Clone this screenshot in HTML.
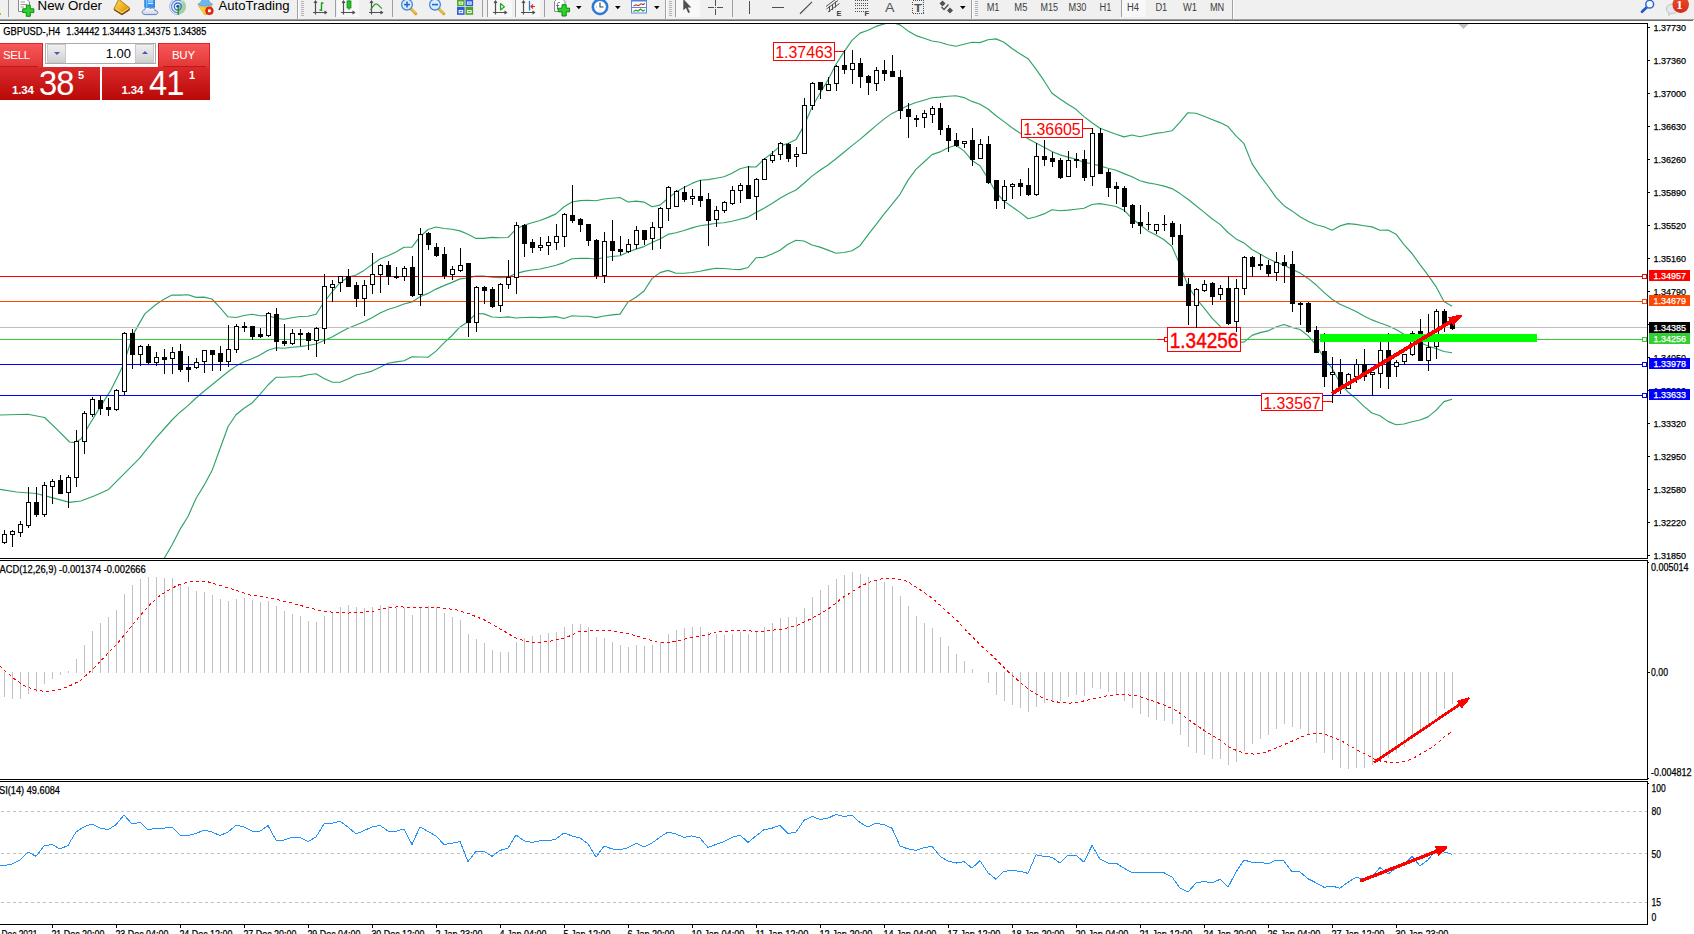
<!DOCTYPE html>
<html lang="en"><head><meta charset="utf-8"><title>GBPUSD H4</title>
<style>
html,body{margin:0;padding:0;background:#fff;}
body{width:1694px;height:934px;overflow:hidden;position:relative;font-family:"Liberation Sans",Arial,sans-serif;}
#trade{position:absolute;left:0;top:43px;width:210px;height:57px;color:#fff;}
#trade .top{position:absolute;top:0;height:25px;background:linear-gradient(#f85858,#e23434);}
#trade .sell{left:0;width:43px;border-top:1px solid #e02828;box-sizing:border-box;border-right:1px solid #d82020}
#trade .buy{left:158px;width:52px;border-top:1px solid #e02828;box-sizing:border-box;border-left:1px solid #d82020;border-right:1px solid #d82020}
#trade .lbl{position:absolute;top:4px;font-size:11.5px;line-height:14px;letter-spacing:-0.3px}
#trade .sell .lbl{left:3px}
#trade .buy .lbl{left:13px}
#trade .sell:after{content:"";position:absolute;left:0;bottom:1px;width:38px;height:1px;background:#c01818}
#trade .buy:after{content:"";position:absolute;left:4px;bottom:1px;width:43px;height:1px;background:#c01818}
#trade .spin{position:absolute;left:45px;top:0;width:111px;height:21px;border:1px solid #aaa;box-sizing:border-box;background:#fff;}
#trade .btn{position:absolute;top:0px;width:19px;height:19px;background:linear-gradient(#f0f0f0,#d0d0d0);border:1px solid #c8c8c8;box-sizing:border-box}
#trade .dn{left:1px}#trade .up{left:89px}
#trade .btn i{position:absolute;left:5.5px;top:7px;width:0;height:0;border-left:3px solid transparent;border-right:3px solid transparent}
#trade .dn i{border-top:3px solid #4858b8}
#trade .up i{border-bottom:3px solid #4858b8;top:6px}
#trade .val{position:absolute;right:24px;top:2px;font-size:13px;line-height:15px;color:#000}
#trade .price{position:absolute;top:24px;height:33px;background:linear-gradient(#dc2a2a,#b80808);}
#trade .ps{left:0;width:100px}
#trade .pb{left:102px;width:108px}
#trade .sm{position:absolute;bottom:4px;font-size:11.5px;letter-spacing:-0.2px;font-weight:bold;line-height:11px}
#trade .big{position:absolute;bottom:0px;font-size:35px;line-height:35px;letter-spacing:-1px;transform:scaleX(0.935);transform-origin:left bottom}
#trade .sup{position:absolute;top:2px;font-size:11px;font-weight:bold;line-height:12px}
#trade .ps .sm{left:12px}#trade .ps .big{left:38.5px}#trade .ps .sup{left:78px}
#trade .pb .sm{left:19.5px}#trade .pb .big{left:46.5px}#trade .pb .sup{left:87px}
</style></head>
<body>
<svg id="chart" width="1694" height="934" viewBox="0 0 1694 934" font-family="Liberation Sans, Arial, sans-serif" style="position:absolute;left:0;top:0">
<defs>
<clipPath id="cm"><rect x="0" y="24" width="1647" height="534"/></clipPath>
<clipPath id="c2"><rect x="0" y="561" width="1647" height="218"/></clipPath>
<clipPath id="c3"><rect x="0" y="782" width="1647" height="142"/></clipPath>
</defs>
<g shape-rendering="crispEdges" stroke="#000" stroke-width="1" fill="none">
<path d="M0 23.5H1648"/>
<path d="M1647.5 23V559"/>
<path d="M0 558.5H1648"/>
<path d="M0 560.5H1648"/>
<path d="M1647.5 560V780"/>
<path d="M0 779.5H1648"/>
<path d="M0 781.5H1648"/>
<path d="M1647.5 781V925"/>
<path d="M0 924.5H1648"/>
</g>
<g clip-path="url(#cm)">
<g fill="none" stroke="#2fa366" stroke-width="1.15" stroke-linejoin="round">
<polyline points="0,415 27.8,414.2 44.6,417.5 55.7,428.1 69.6,442 75,442.6 80.8,439.2 89,425.3 97.5,411.4 111.4,389.1 122.5,366.8 133.7,333.4 144.8,313.9 156,304.5 164,299.3 172,295.1 180,295.1 188,294.7 196,297.4 204,297.1 212,299 220,307.7 228,316.8 236,317.5 244,315.5 252,314.2 260,315.8 268,315.5 276,318.2 284,319.3 292,317.7 300,316.5 308,316.2 316,314.3 324,302.3 332,292 340,282.6 348,277.4 356,275 364,270.4 372,264.6 380,259 388,255.7 396,252 404,247.3 412,247.1 420,236.7 428,229.5 436,227 444,228.5 452,229.3 460,230.9 468,234.3 476,238.4 484,238.4 492,237.4 500,237.7 508,237.5 516,229.1 524,225.3 532,222.7 540,220.5 548,217.4 556,213.9 564,206.7 572,202 580,200.6 588,200.2 596,200.8 604,199 612,198.2 620,197.5 628,202 636,201.1 644,202.1 652,206.7 660,205.1 668,198.3 676,192.1 684,187.6 692,183.4 700,180.2 708,179.6 716,178.2 724,176.8 732,173.2 740,168.8 748,166.8 756,167 764,159.3 772,153.1 780,146.1 788,143.4 796,139.6 804,125.6 812,107.3 820,93.2 828,79.9 836,64.3 844,51.9 852,40.4 860,33.1 868,30.2 876,26.4 884,23.9 892,22.4 900,24.9 908,30.9 916,35.6 924,38.3 932,41 940,42.3 948,44.8 956,46.3 964,44.3 972,42.3 980,42.6 988,39.7 996,38.9 1004,42.2 1012,48.5 1020,53.8 1028,58.7 1036,69.2 1044,80.7 1052,93.2 1060,99 1068,104.2 1076,109.3 1084,116.6 1092,122.8 1100,128.2 1108,131.3 1116,134.2 1124,136.9 1132,135 1140,136.8 1148,135 1156,133.4 1164,132.3 1172,130.8 1180,122.1 1188,112.7 1196,113.3 1204,116.3 1212,119.5 1220,122.6 1228,126.6 1236,135.9 1244,143.7 1252,163.6 1260,175.6 1268,186 1276,197.4 1284,205.7 1292,210.9 1300,216.7 1308,221.3 1316,224.8 1324,226.8 1332,230.3 1340,225.9 1348,223.6 1356,224.4 1364,225.7 1372,226.9 1380,230.2 1388,230 1396,234.2 1404,244.6 1412,253.5 1420,264.7 1428,275.2 1436,286.6 1444,301.4 1452,306.2"/>
<polyline points="0,489.4 16.7,492 36.2,493.5 55.7,498.6 69.6,502.4 80.8,501 94.7,495.8 108.6,489.4 122.5,475.4 139.2,458.7 156,437.8 164,429 172,420 180,412.2 188,405.6 196,398 204,391.2 212,384.8 220,378.2 228,371.8 236,366.1 244,361.8 252,358.7 260,355 268,350.2 276,347.7 284,348.2 292,347.2 300,346.6 308,345.5 316,344 324,340.4 332,337 340,332.4 348,328.2 356,325 364,321.8 372,317.8 380,313.1 388,309.5 396,307 404,304 412,301.9 420,296.8 428,293.4 436,289.1 444,285.6 452,282.4 460,278.9 468,278 476,276 484,276.1 492,277.2 500,277.6 508,277.2 516,273.6 524,271.4 532,270 540,269 548,267.3 556,265.3 564,262.6 572,258.8 580,258.4 588,258.2 596,259.2 604,257.5 612,256.5 620,255.8 628,252 636,249.1 644,246.6 652,242.6 660,238.9 668,234.4 676,232.7 684,230.5 692,227.9 700,225.7 708,224.6 716,223.3 724,222.7 732,221.2 740,219.2 748,217.1 756,212.4 764,208.3 772,203.5 780,198.2 788,193.8 796,190 804,183.3 812,176.1 820,170.2 828,165 836,158.7 844,152.2 852,145.6 860,139.4 868,132.5 876,125.6 884,119.1 892,113.4 900,109.6 908,105.5 916,102.5 924,100.2 932,97.8 940,97.1 948,96.2 956,95.8 964,97.6 972,101.4 980,104.2 988,109 996,115.7 1004,121.6 1012,127.7 1020,133.1 1028,138.7 1036,143 1044,147.3 1052,151.5 1060,154.9 1068,157.1 1076,159.2 1084,162.4 1092,163.7 1100,165.9 1108,168.2 1116,170.3 1124,173.6 1132,176.8 1140,180.8 1148,182.9 1156,184.2 1164,186.1 1172,188.6 1180,193.6 1188,199.2 1196,205.8 1204,212.1 1212,218.8 1220,224.4 1228,232.5 1236,238.9 1244,242.9 1252,249.5 1260,254.1 1268,258.4 1276,262.2 1284,265.1 1292,269.2 1300,273.1 1308,278.4 1316,284.8 1324,292.4 1332,299.2 1340,304.3 1348,307.8 1356,311.5 1364,316.1 1372,319.9 1380,323 1388,325.7 1396,329.4 1404,334.3 1412,337.6 1420,342.4 1428,346.1 1436,348.5 1444,351.5 1452,352.7"/>
<polyline points="156,572 156,571.1 164,558.7 172,545 180,529.4 188,516.5 196,498.5 204,485.4 212,470.6 220,448.8 228,426.8 236,414.7 244,408.2 252,403.1 260,394.3 268,385 276,377.3 284,377.2 292,376.7 300,376.6 308,374.8 316,373.8 324,378.5 332,382.1 340,382.2 348,379 356,375 364,373.2 372,371.1 380,367.2 388,363.2 396,361.9 404,360.7 412,356.8 420,357 428,357.3 436,351.1 444,342.8 452,335.5 460,326.9 468,321.7 476,313.5 484,313.9 492,317 500,317.5 508,316.9 516,318 524,317.5 532,317.3 540,317.6 548,317.1 556,316.6 564,318.5 572,315.7 580,316.2 588,316.2 596,317.6 604,316 612,314.9 620,314.1 628,302 636,297.2 644,291 652,278.6 660,272.6 668,270.4 676,273.2 684,273.3 692,272.5 700,271.2 708,269.6 716,268.3 724,268.5 732,269.2 740,269.6 748,267.5 756,257.8 764,257.3 772,254 780,250.3 788,244.2 796,240.3 804,241 812,245 820,247.1 828,250.1 836,253.2 844,252.5 852,250.8 860,245.7 868,234.9 876,224.7 884,214.2 892,204.3 900,194.3 908,180.1 916,169.3 924,162 932,154.6 940,151.9 948,147.7 956,145.3 964,150.9 972,160.4 980,165.7 988,178.4 996,192.5 1004,201.1 1012,206.8 1020,212.4 1028,218.7 1036,216.8 1044,213.9 1052,209.8 1060,210.8 1068,210.1 1076,209.2 1084,208.2 1092,204.5 1100,203.6 1108,205 1116,206.5 1124,210.2 1132,218.5 1140,224.8 1148,230.9 1156,234.9 1164,239.8 1172,246.5 1180,265.1 1188,285.7 1196,298.3 1204,307.9 1212,318.2 1220,326.2 1228,338.4 1236,341.9 1244,342.1 1252,335.4 1260,332.6 1268,330.9 1276,327 1284,324.5 1292,327.4 1300,329.5 1308,335.6 1316,344.8 1324,358 1332,368.2 1340,382.8 1348,392 1356,398.6 1364,406.4 1372,413 1380,415.8 1388,421.4 1396,424.7 1404,424 1412,421.7 1420,420 1428,416.9 1436,410.4 1444,401.6 1452,399.2"/>
</g>
<g shape-rendering="crispEdges" stroke-width="1" fill="none">
<path d="M0 327.5H1647" stroke="#c0c0c0"/>
<path d="M0 276.5H1647" stroke="#ff0000"/>
<path d="M0 301.5H1647" stroke="#ff4500"/>
<path d="M0 339.5H1647" stroke="#32cd32"/>
<path d="M0 364.5H1647" stroke="#0000ff"/>
<path d="M0 395.5H1647" stroke="#0000ff"/>
</g>
<g shape-rendering="crispEdges" stroke-width="1" fill="#fff">
<rect x="1642.5" y="274.5" width="4" height="4" stroke="#ff0000"/>
<rect x="1642.5" y="299.5" width="4" height="4" stroke="#ff4500"/>
<rect x="1642.5" y="337.5" width="4" height="4" stroke="#32cd32"/>
<rect x="1642.5" y="362.5" width="4" height="4" stroke="#0000ff"/>
<rect x="1642.5" y="393.5" width="4" height="4" stroke="#0000ff"/>
</g>
<g shape-rendering="crispEdges" stroke="#f00" stroke-width="1"><path d="M1157 339.5H1165" fill="none"/><rect x="1164.5" y="337.5" width="3" height="4" fill="#fff"/></g>
<g shape-rendering="crispEdges" stroke="#f00" fill="none"><path d="M835 51.5H845"/><path d="M1083 128.5H1093"/><path d="M1323 401.5H1333"/></g>
<rect x="773.5" y="42.5" width="61" height="18" fill="#fff" stroke="#f00" stroke-width="1" shape-rendering="crispEdges"/>
<text x="775.2" y="58.2" font-size="16.5" fill="#f00" text-anchor="start" textLength="57.5" lengthAdjust="spacingAndGlyphs" >1.37463</text>
<rect x="1021.5" y="119.5" width="61" height="18" fill="#fff" stroke="#f00" stroke-width="1" shape-rendering="crispEdges"/>
<text x="1023.2" y="135.2" font-size="16.5" fill="#f00" text-anchor="start" textLength="57.5" lengthAdjust="spacingAndGlyphs" >1.36605</text>
<rect x="1261.5" y="393.5" width="61" height="17" fill="#fff" stroke="#f00" stroke-width="1" shape-rendering="crispEdges"/>
<text x="1263.2" y="408.7" font-size="16.5" fill="#f00" text-anchor="start" textLength="57.5" lengthAdjust="spacingAndGlyphs" >1.33567</text>
<rect x="1167.5" y="327.5" width="73" height="24" fill="#fff" stroke="#f00" stroke-width="1" shape-rendering="crispEdges"/>
<text x="1169.8" y="348" font-size="21.5" fill="#f00" text-anchor="start" textLength="68.5" lengthAdjust="spacingAndGlyphs" stroke="#f00" stroke-width="0.45">1.34256</text>
<g shape-rendering="crispEdges" stroke="#000" stroke-width="1">
<path d="M4.5 530V544M12.5 530V547M20.5 521V537M28.5 487V528M36.5 487V517M44.5 482V517M52.5 479V504M60.5 475V494M68.5 475V508M76.5 430V487M84.5 411V454M92.5 397V417M100.5 396V415M108.5 398V416M116.5 389V411M124.5 332V395M132.5 329V369M140.5 345V366M148.5 344V364M156.5 352V366M164.5 349V374M172.5 347V374M180.5 344V372M188.5 356V382M196.5 358V369M204.5 350V373M212.5 350V371M220.5 346V371M228.5 325V367M236.5 324V353M244.5 322V332M252.5 326V340M260.5 328V338M268.5 312V337M276.5 308V351M284.5 324V346M292.5 329V345M300.5 329V346M308.5 332V350M316.5 327V357M324.5 274V344M332.5 280V302M340.5 276V292M348.5 269V287M356.5 282V307M364.5 280V316M372.5 253V294M380.5 264V293M388.5 261V285M396.5 267V279M404.5 266V281M412.5 256V297M420.5 228V306M428.5 232V250M436.5 243V257M444.5 247V279M452.5 266V280M460.5 248V272M468.5 263V337M476.5 286V332M484.5 286V304M492.5 287V308M500.5 283V312M508.5 260V289M516.5 222V294M524.5 224V257M532.5 239V253M540.5 237V251M548.5 236V255M556.5 224V250M564.5 213V247M572.5 185V223M580.5 218V232M588.5 224V246M596.5 239V279M604.5 232V283M612.5 220V261M620.5 236V255M628.5 239V253M636.5 226V249M644.5 230V245M652.5 222V250M660.5 207V249M668.5 186V221M676.5 190V207M684.5 186V202M692.5 189V205M700.5 180V207M708.5 193V246M716.5 206V227M724.5 201V213M732.5 186V205M740.5 183V203M748.5 166V199M756.5 178V220M764.5 158V180M772.5 151V163M780.5 142V160M788.5 143V162M796.5 147V167M804.5 98V154M812.5 82V110M820.5 82V99M828.5 77V91M836.5 65V91M844.5 50V74M852.5 50V84M860.5 58V88M868.5 75V95M876.5 67V91M884.5 60V81M892.5 55V77M900.5 70V119M908.5 103V138M916.5 115V127M924.5 110V128M932.5 106V123M940.5 103V135M948.5 125V152M956.5 133V147M964.5 141V148M972.5 128V166M980.5 139V159M988.5 136V184M996.5 180V209M1004.5 180V209M1012.5 183V199M1020.5 179V196M1028.5 168V196M1036.5 143V196M1044.5 140V166M1052.5 152V167M1060.5 158V179M1068.5 151V177M1076.5 153V168M1084.5 150V181M1092.5 128V186M1100.5 128V174M1108.5 169V197M1116.5 182V204M1124.5 186V212M1132.5 204V228M1140.5 205V234M1148.5 212V230M1146 224.5H1151M1156.5 224V234M1164.5 215V231M1162 224.5H1167M1172.5 221V245M1180.5 224V286M1188.5 278V325M1196.5 288V328M1204.5 280V292M1212.5 282V305M1220.5 285V300M1228.5 276V325M1236.5 279V332M1244.5 256V295M1252.5 256V277M1260.5 254V270M1268.5 260V277M1276.5 252V281M1284.5 255V283M1292.5 251V312M1300.5 302V325M1308.5 302V333M1316.5 326V353M1324.5 333V387M1332.5 357V403M1340.5 359V394M1348.5 373V389M1356.5 359V383M1364.5 349V381M1372.5 372V396M1380.5 342V388M1388.5 333V389M1396.5 360V377M1404.5 354V365M1412.5 331V356M1420.5 319V361M1428.5 314V371M1436.5 309V359M1444.5 309V332M1452.5 318V330" fill="none"/>
<path d="M2.5 534.5H6.5V542.5H2.5ZM10.5 531.5H14.5V534.5H10.5ZM18.5 524.5H22.5V532.5H18.5ZM26.5 502.5H30.5V525.5H26.5ZM42.5 485.5H46.5V514.5H42.5ZM50.5 481.5H54.5V486.5H50.5ZM66.5 477.5H70.5V492.5H66.5ZM74.5 441.5H78.5V477.5H74.5ZM82.5 413.5H86.5V441.5H82.5ZM90.5 399.5H94.5V414.5H90.5ZM114.5 390.5H118.5V409.5H114.5ZM122.5 333.5H126.5V391.5H122.5ZM138.5 346.5H142.5V354.5H138.5ZM154.5 357.5H158.5V362.5H154.5ZM170.5 352.5H174.5V358.5H170.5ZM194.5 362.5H198.5V367.5H194.5ZM202.5 350.5H206.5V361.5H202.5ZM226.5 349.5H230.5V361.5H226.5ZM234.5 326.5H238.5V349.5H234.5ZM266.5 313.5H270.5V335.5H266.5ZM290.5 333.5H294.5V343.5H290.5ZM314.5 328.5H318.5V340.5H314.5ZM322.5 286.5H326.5V328.5H322.5ZM330.5 284.5H334.5V287.5H330.5ZM338.5 276.5H342.5V282.5H338.5ZM362.5 285.5H366.5V298.5H362.5ZM370.5 274.5H374.5V284.5H370.5ZM378.5 265.5H382.5V274.5H378.5ZM402.5 268.5H406.5V276.5H402.5ZM418.5 234.5H422.5V294.5H418.5ZM450.5 269.5H454.5V274.5H450.5ZM458.5 265.5H462.5V270.5H458.5ZM474.5 287.5H478.5V322.5H474.5ZM498.5 284.5H502.5V305.5H498.5ZM506.5 277.5H510.5V284.5H506.5ZM514.5 225.5H518.5V277.5H514.5ZM538.5 245.5H542.5V247.5H538.5ZM546.5 242.5H550.5V245.5H546.5ZM554.5 236.5H558.5V242.5H554.5ZM562.5 214.5H566.5V236.5H562.5ZM602.5 241.5H606.5V275.5H602.5ZM626.5 244.5H630.5V251.5H626.5ZM634.5 230.5H638.5V244.5H634.5ZM650.5 227.5H654.5V238.5H650.5ZM658.5 208.5H662.5V227.5H658.5ZM666.5 187.5H670.5V208.5H666.5ZM674.5 191.5H678.5V206.5H674.5ZM690.5 196.5H694.5V198.5H690.5ZM714.5 210.5H718.5V219.5H714.5ZM722.5 202.5H726.5V210.5H722.5ZM730.5 190.5H734.5V203.5H730.5ZM738.5 185.5H742.5V190.5H738.5ZM754.5 179.5H758.5V196.5H754.5ZM762.5 159.5H766.5V179.5H762.5ZM770.5 155.5H774.5V160.5H770.5ZM778.5 143.5H782.5V154.5H778.5ZM794.5 154.5H798.5V156.5H794.5ZM802.5 105.5H806.5V153.5H802.5ZM810.5 83.5H814.5V105.5H810.5ZM826.5 84.5H830.5V90.5H826.5ZM834.5 66.5H838.5V83.5H834.5ZM850.5 63.5H854.5V69.5H850.5ZM874.5 70.5H878.5V83.5H874.5ZM922.5 113.5H926.5V117.5H922.5ZM930.5 108.5H934.5V114.5H930.5ZM962.5 141.5H966.5V143.5H962.5ZM978.5 144.5H982.5V158.5H978.5ZM1002.5 186.5H1006.5V200.5H1002.5ZM1010.5 184.5H1014.5V186.5H1010.5ZM1034.5 156.5H1038.5V194.5H1034.5ZM1066.5 160.5H1070.5V176.5H1066.5ZM1090.5 133.5H1094.5V176.5H1090.5ZM1154.5 224.5H1158.5V230.5H1154.5ZM1194.5 289.5H1198.5V305.5H1194.5ZM1202.5 284.5H1206.5V290.5H1202.5ZM1218.5 288.5H1222.5V294.5H1218.5ZM1234.5 288.5H1238.5V321.5H1234.5ZM1242.5 257.5H1246.5V288.5H1242.5ZM1274.5 262.5H1278.5V272.5H1274.5ZM1330.5 372.5H1334.5V374.5H1330.5ZM1346.5 374.5H1350.5V388.5H1346.5ZM1354.5 364.5H1358.5V376.5H1354.5ZM1370.5 372.5H1374.5V374.5H1370.5ZM1378.5 350.5H1382.5V373.5H1378.5ZM1394.5 362.5H1398.5V366.5H1394.5ZM1402.5 354.5H1406.5V361.5H1402.5ZM1410.5 333.5H1414.5V354.5H1410.5ZM1426.5 347.5H1430.5V360.5H1426.5ZM1434.5 311.5H1438.5V346.5H1434.5Z" fill="#fff"/>
<path d="M34.5 502.5H38.5V514.5H34.5ZM58.5 480.5H62.5V493.5H58.5ZM98.5 400.5H102.5V408.5H98.5ZM106.5 407.5H110.5V409.5H106.5ZM130.5 333.5H134.5V354.5H130.5ZM146.5 346.5H150.5V362.5H146.5ZM162.5 357.5H166.5V359.5H162.5ZM178.5 351.5H182.5V369.5H178.5ZM186.5 367.5H190.5V369.5H186.5ZM210.5 350.5H214.5V354.5H210.5ZM218.5 353.5H222.5V361.5H218.5ZM242.5 326.5H246.5V327.5H242.5ZM250.5 326.5H254.5V336.5H250.5ZM258.5 334.5H262.5V336.5H258.5ZM274.5 314.5H278.5V341.5H274.5ZM282.5 341.5H286.5V343.5H282.5ZM298.5 333.5H302.5V334.5H298.5ZM306.5 333.5H310.5V340.5H306.5ZM346.5 276.5H350.5V286.5H346.5ZM354.5 285.5H358.5V298.5H354.5ZM386.5 265.5H390.5V276.5H386.5ZM394.5 276.5H398.5V277.5H394.5ZM410.5 267.5H414.5V295.5H410.5ZM426.5 233.5H430.5V244.5H426.5ZM434.5 247.5H438.5V255.5H434.5ZM442.5 254.5H446.5V275.5H442.5ZM466.5 263.5H470.5V322.5H466.5ZM482.5 287.5H486.5V290.5H482.5ZM490.5 289.5H494.5V306.5H490.5ZM522.5 225.5H526.5V243.5H522.5ZM530.5 242.5H534.5V247.5H530.5ZM570.5 215.5H574.5V220.5H570.5ZM578.5 219.5H582.5V224.5H578.5ZM586.5 224.5H590.5V240.5H586.5ZM594.5 240.5H598.5V275.5H594.5ZM610.5 241.5H614.5V250.5H610.5ZM618.5 249.5H622.5V251.5H618.5ZM642.5 230.5H646.5V239.5H642.5ZM682.5 192.5H686.5V199.5H682.5ZM698.5 196.5H702.5V200.5H698.5ZM706.5 199.5H710.5V220.5H706.5ZM746.5 185.5H750.5V198.5H746.5ZM786.5 144.5H790.5V158.5H786.5ZM818.5 82.5H822.5V89.5H818.5ZM842.5 65.5H846.5V69.5H842.5ZM858.5 63.5H862.5V76.5H858.5ZM866.5 76.5H870.5V82.5H866.5ZM882.5 70.5H886.5V73.5H882.5ZM890.5 71.5H894.5V76.5H890.5ZM898.5 77.5H902.5V110.5H898.5ZM906.5 109.5H910.5V116.5H906.5ZM914.5 118.5H918.5V119.5H914.5ZM938.5 108.5H942.5V129.5H938.5ZM946.5 128.5H950.5V140.5H946.5ZM954.5 140.5H958.5V145.5H954.5ZM970.5 140.5H974.5V159.5H970.5ZM986.5 144.5H990.5V182.5H986.5ZM994.5 180.5H998.5V200.5H994.5ZM1018.5 183.5H1022.5V186.5H1018.5ZM1026.5 185.5H1030.5V194.5H1026.5ZM1042.5 156.5H1046.5V159.5H1042.5ZM1050.5 158.5H1054.5V161.5H1050.5ZM1058.5 160.5H1062.5V177.5H1058.5ZM1074.5 159.5H1078.5V160.5H1074.5ZM1082.5 159.5H1086.5V177.5H1082.5ZM1098.5 133.5H1102.5V173.5H1098.5ZM1106.5 172.5H1110.5V187.5H1106.5ZM1114.5 186.5H1118.5V188.5H1114.5ZM1122.5 188.5H1126.5V206.5H1122.5ZM1130.5 205.5H1134.5V223.5H1130.5ZM1138.5 222.5H1142.5V225.5H1138.5ZM1170.5 223.5H1174.5V236.5H1170.5ZM1178.5 235.5H1182.5V285.5H1178.5ZM1186.5 284.5H1190.5V305.5H1186.5ZM1210.5 283.5H1214.5V296.5H1210.5ZM1226.5 288.5H1230.5V323.5H1226.5ZM1250.5 257.5H1254.5V266.5H1250.5ZM1258.5 264.5H1262.5V265.5H1258.5ZM1266.5 265.5H1270.5V273.5H1266.5ZM1282.5 262.5H1286.5V265.5H1282.5ZM1290.5 264.5H1294.5V303.5H1290.5ZM1298.5 303.5H1302.5V304.5H1298.5ZM1306.5 303.5H1310.5V331.5H1306.5ZM1314.5 330.5H1318.5V352.5H1314.5ZM1322.5 351.5H1326.5V376.5H1322.5ZM1338.5 372.5H1342.5V387.5H1338.5ZM1362.5 364.5H1366.5V376.5H1362.5ZM1386.5 350.5H1390.5V376.5H1386.5ZM1418.5 331.5H1422.5V360.5H1418.5ZM1442.5 311.5H1446.5V324.5H1442.5ZM1450.5 322.5H1454.5V328.5H1450.5Z" fill="#000"/>
</g>
<rect x="1320" y="334" width="217" height="8" fill="#00ff00" shape-rendering="crispEdges"/>
<g shape-rendering="crispEdges">
<path d="M1332 393.5L1452.5 320.6" stroke="#f00" stroke-width="3.9" fill="none"/>
<path d="M1462 316L1453.4 325.9L1448.2 317.4L1461 314.4Z" fill="#f00"/>
</g>
<path d="M1458.5 24L1468.5 24L1463.5 29Z" fill="#c0c0c0"/>
</g>
<text x="3.2" y="34.5" font-size="10" fill="#000" text-anchor="start" textLength="57" lengthAdjust="spacingAndGlyphs"  stroke="#000" stroke-width="0.25">GBPUSD-,H4</text>
<text x="66.3" y="34.5" font-size="10" fill="#000" text-anchor="start" textLength="140" lengthAdjust="spacingAndGlyphs"  stroke="#000" stroke-width="0.25">1.34442 1.34443 1.34375 1.34385</text>
<g shape-rendering="crispEdges" stroke="#000">
<path d="M1648 27.5H1650"/>
<path d="M1648 60.5H1650"/>
<path d="M1648 93.5H1650"/>
<path d="M1648 126.5H1650"/>
<path d="M1648 159.5H1650"/>
<path d="M1648 192.5H1650"/>
<path d="M1648 225.5H1650"/>
<path d="M1648 258.5H1650"/>
<path d="M1648 291.5H1650"/>
<path d="M1648 324.5H1650"/>
<path d="M1648 357.5H1650"/>
<path d="M1648 390.5H1650"/>
<path d="M1648 423.5H1650"/>
<path d="M1648 456.5H1650"/>
<path d="M1648 489.5H1650"/>
<path d="M1648 522.5H1650"/>
<path d="M1648 555.5H1650"/>
</g>
<text x="1653.5" y="31" font-size="9.7" fill="#000" text-anchor="start" textLength="32.5" lengthAdjust="spacingAndGlyphs"  stroke="#000" stroke-width="0.25">1.37730</text>
<text x="1653.5" y="64" font-size="9.7" fill="#000" text-anchor="start" textLength="32.5" lengthAdjust="spacingAndGlyphs"  stroke="#000" stroke-width="0.25">1.37360</text>
<text x="1653.5" y="97" font-size="9.7" fill="#000" text-anchor="start" textLength="32.5" lengthAdjust="spacingAndGlyphs"  stroke="#000" stroke-width="0.25">1.37000</text>
<text x="1653.5" y="130" font-size="9.7" fill="#000" text-anchor="start" textLength="32.5" lengthAdjust="spacingAndGlyphs"  stroke="#000" stroke-width="0.25">1.36630</text>
<text x="1653.5" y="163" font-size="9.7" fill="#000" text-anchor="start" textLength="32.5" lengthAdjust="spacingAndGlyphs"  stroke="#000" stroke-width="0.25">1.36260</text>
<text x="1653.5" y="196" font-size="9.7" fill="#000" text-anchor="start" textLength="32.5" lengthAdjust="spacingAndGlyphs"  stroke="#000" stroke-width="0.25">1.35890</text>
<text x="1653.5" y="229" font-size="9.7" fill="#000" text-anchor="start" textLength="32.5" lengthAdjust="spacingAndGlyphs"  stroke="#000" stroke-width="0.25">1.35520</text>
<text x="1653.5" y="262" font-size="9.7" fill="#000" text-anchor="start" textLength="32.5" lengthAdjust="spacingAndGlyphs"  stroke="#000" stroke-width="0.25">1.35160</text>
<text x="1653.5" y="295" font-size="9.7" fill="#000" text-anchor="start" textLength="32.5" lengthAdjust="spacingAndGlyphs"  stroke="#000" stroke-width="0.25">1.34790</text>
<text x="1653.5" y="328" font-size="9.7" fill="#000" text-anchor="start" textLength="32.5" lengthAdjust="spacingAndGlyphs"  stroke="#000" stroke-width="0.25">1.34420</text>
<text x="1653.5" y="361" font-size="9.7" fill="#000" text-anchor="start" textLength="32.5" lengthAdjust="spacingAndGlyphs"  stroke="#000" stroke-width="0.25">1.34050</text>
<text x="1653.5" y="394" font-size="9.7" fill="#000" text-anchor="start" textLength="32.5" lengthAdjust="spacingAndGlyphs"  stroke="#000" stroke-width="0.25">1.33690</text>
<text x="1653.5" y="427" font-size="9.7" fill="#000" text-anchor="start" textLength="32.5" lengthAdjust="spacingAndGlyphs"  stroke="#000" stroke-width="0.25">1.33320</text>
<text x="1653.5" y="460" font-size="9.7" fill="#000" text-anchor="start" textLength="32.5" lengthAdjust="spacingAndGlyphs"  stroke="#000" stroke-width="0.25">1.32950</text>
<text x="1653.5" y="493" font-size="9.7" fill="#000" text-anchor="start" textLength="32.5" lengthAdjust="spacingAndGlyphs"  stroke="#000" stroke-width="0.25">1.32580</text>
<text x="1653.5" y="526" font-size="9.7" fill="#000" text-anchor="start" textLength="32.5" lengthAdjust="spacingAndGlyphs"  stroke="#000" stroke-width="0.25">1.32220</text>
<text x="1653.5" y="559" font-size="9.7" fill="#000" text-anchor="start" textLength="32.5" lengthAdjust="spacingAndGlyphs"  stroke="#000" stroke-width="0.25">1.31850</text>
<rect x="1649" y="270" width="41" height="11" fill="#ff0000" shape-rendering="crispEdges"/>
<text x="1653.5" y="278.9" font-size="9.7" fill="#fff" text-anchor="start" textLength="32.5" lengthAdjust="spacingAndGlyphs"  stroke="#fff" stroke-width="0.25">1.34957</text>
<rect x="1649" y="295" width="41" height="11" fill="#ff4500" shape-rendering="crispEdges"/>
<text x="1653.5" y="303.9" font-size="9.7" fill="#fff" text-anchor="start" textLength="32.5" lengthAdjust="spacingAndGlyphs"  stroke="#fff" stroke-width="0.25">1.34679</text>
<rect x="1649" y="322" width="41" height="11" fill="#000000" shape-rendering="crispEdges"/>
<text x="1653.5" y="330.9" font-size="9.7" fill="#fff" text-anchor="start" textLength="32.5" lengthAdjust="spacingAndGlyphs"  stroke="#fff" stroke-width="0.25">1.34385</text>
<rect x="1649" y="333" width="41" height="11" fill="#32cd32" shape-rendering="crispEdges"/>
<text x="1653.5" y="341.9" font-size="9.7" fill="#fff" text-anchor="start" textLength="32.5" lengthAdjust="spacingAndGlyphs"  stroke="#fff" stroke-width="0.25">1.34256</text>
<rect x="1649" y="358" width="41" height="11" fill="#0000ff" shape-rendering="crispEdges"/>
<text x="1653.5" y="366.9" font-size="9.7" fill="#fff" text-anchor="start" textLength="32.5" lengthAdjust="spacingAndGlyphs"  stroke="#fff" stroke-width="0.25">1.33978</text>
<rect x="1649" y="389" width="41" height="11" fill="#0000ff" shape-rendering="crispEdges"/>
<text x="1653.5" y="397.9" font-size="9.7" fill="#fff" text-anchor="start" textLength="32.5" lengthAdjust="spacingAndGlyphs"  stroke="#fff" stroke-width="0.25">1.33633</text>
<g clip-path="url(#c2)">
<path d="M4.5 672V697M12.5 672V699M20.5 672V699M28.5 672V694M36.5 672V692M44.5 672V684M52.5 672V679M60.5 672V675M68.5 671V673M76.5 659V673M84.5 645V673M92.5 631V673M100.5 623V673M108.5 617V673M116.5 610V673M124.5 594V673M132.5 585V673M140.5 579V673M148.5 577V673M156.5 577V673M164.5 578V673M172.5 578V673M180.5 584V673M188.5 587V673M196.5 591V673M204.5 592V673M212.5 595V673M220.5 599V673M228.5 601V673M236.5 599V673M244.5 598V673M252.5 600V673M260.5 602V673M268.5 601V673M276.5 606V673M284.5 611V673M292.5 614V673M300.5 616V673M308.5 621V673M316.5 622V673M324.5 616V673M332.5 612V673M340.5 607V673M348.5 605V673M356.5 607V673M364.5 608V673M372.5 607V673M380.5 605V673M388.5 606V673M396.5 608V673M404.5 608V673M412.5 615V673M420.5 608V673M428.5 606V673M436.5 607V673M444.5 613V673M452.5 617V673M460.5 620V673M468.5 634V673M476.5 639V673M484.5 643V673M492.5 650V673M500.5 652V673M508.5 652V673M516.5 642V673M524.5 638V673M532.5 636V673M540.5 635V673M548.5 633V673M556.5 632V673M564.5 627V673M572.5 624V673M580.5 624V673M588.5 627V673M596.5 637V673M604.5 638V673M612.5 642V673M620.5 645V673M628.5 647V673M636.5 645V673M644.5 646V673M652.5 645V673M660.5 642V673M668.5 634V673M676.5 630V673M684.5 628V673M692.5 627V673M700.5 627V673M708.5 632V673M716.5 634V673M724.5 635V673M732.5 634V673M740.5 632V673M748.5 634V673M756.5 632V673M764.5 627V673M772.5 623V673M780.5 618V673M788.5 617V673M796.5 617V673M804.5 608V673M812.5 597V673M820.5 590V673M828.5 585V673M836.5 579V673M844.5 575V673M852.5 572V673M860.5 574V673M868.5 577V673M876.5 580V673M884.5 582V673M892.5 586V673M900.5 596V673M908.5 606V673M916.5 616V673M924.5 623V673M932.5 628V673M940.5 637V673M948.5 646V673M956.5 654V673M964.5 661V673M972.5 669V673M988.5 672V683M996.5 672V695M1004.5 672V701M1012.5 672V705M1020.5 672V708M1028.5 672V712M1036.5 672V707M1044.5 672V703M1052.5 672V701M1060.5 672V701M1068.5 672V697M1076.5 672V695M1084.5 672V696M1092.5 672V688M1100.5 672V689M1108.5 672V692M1116.5 672V695M1124.5 672V701M1132.5 672V708M1140.5 672V714M1148.5 672V717M1156.5 672V720M1164.5 672V721M1172.5 672V724M1180.5 672V735M1188.5 672V747M1196.5 672V753M1204.5 672V755M1212.5 672V759M1220.5 672V759M1228.5 672V765M1236.5 672V762M1244.5 672V751M1252.5 672V744M1260.5 672V739M1268.5 672V735M1276.5 672V729M1284.5 672V724M1292.5 672V727M1300.5 672V729M1308.5 672V734M1316.5 672V743M1324.5 672V753M1332.5 672V760M1340.5 672V768M1348.5 672V769M1356.5 672V768M1364.5 672V768M1372.5 672V765M1380.5 672V761M1388.5 672V758M1396.5 672V753M1404.5 672V747M1412.5 672V739M1420.5 672V733M1428.5 672V726M1436.5 672V716M1444.5 672V709M1452.5 672V704" stroke="#c0c0c0" stroke-width="1" fill="none" shape-rendering="crispEdges"/>
<polyline points="0,666.1 7.5,673.1 15,679.4 25,686.2 35,689.9 45,691.4 55,690.7 67.6,686.9 80,680.7 92.6,669.4 105,656.4 117.6,643.1 130,628.1 140,615.6 150,604.3 160,595.5 170,589.3 180,584.3 190,581.8 207.8,581.8 220.3,585.5 235.3,590 250.3,595 265.3,596.8 277.8,599.8 290.4,602.6 305.4,606.8 320.4,610.6 333,612.3 348,613.1 360.5,612.3 373,611.3 383,608.6 398,606.8 410.5,607.3 424,607.3 438.5,607.6 456,609.8 468.6,613.6 486,620.6 498.6,628.1 516,638.1 528.6,641.9 541,642.4 553.7,640.6 566,637.6 578.7,631.8 591,630.6 608.7,630.6 628.8,633.8 646.3,638.9 658.8,642.4 668.8,642.4 681.3,639.9 693.8,636.8 708.9,634.3 721.4,631.3 736.4,630.6 761.4,631.3 781.5,629.3 796.5,625.6 809,619.8 821.5,613.1 831.5,606.8 842,598 852,591.8 862,585.5 872,581.3 882,578.8 897,578.8 907,581.3 919.6,589.3 932,598 944.6,609.3 957,620.6 969.7,634.3 982,646.4 994.7,658.1 1007,670.6 1019.7,681.9 1029.7,690.2 1039.8,696.4 1049.8,700.7 1059.8,702.4 1069.8,703.2 1079.8,701.9 1092.3,698.9 1107.3,695.7 1122.4,694.4 1137.4,695.7 1150,699.9 1162.4,704.4 1175,709.9 1185,716.9 1195,724.5 1207.5,732.5 1220,740 1230,747.6 1236.4,750.4 1244.3,753.3 1254,754.1 1262,753.2 1271.4,750 1282.6,745.3 1293.8,740.4 1301.7,736.9 1309.7,734 1317.7,733.2 1325.6,734.5 1333.6,737.7 1341.6,740.9 1349.5,745.7 1357.5,750.1 1365.5,754.1 1373.4,758.7 1381.4,761.3 1389.4,762.4 1397.4,762.4 1405.3,761.3 1411.7,759.2 1421.3,753.6 1429.2,749.2 1437.2,743.3 1445.2,736.1 1451.9,731.8" fill="none" stroke="#f00" stroke-width="1" stroke-dasharray="3 3" shape-rendering="crispEdges"/>
<g shape-rendering="crispEdges">
<path d="M1374 762.5L1460.8 703.7" stroke="#f00" stroke-width="2.7" fill="none"/>
<path d="M1470 698.5L1461.7 708.6L1456.6 701L1469 697.1Z" fill="#f00"/>
</g>
</g>
<text x="-8.3" y="572.5" font-size="10" fill="#000" text-anchor="start" textLength="154" lengthAdjust="spacingAndGlyphs"  stroke="#000" stroke-width="0.25">MACD(12,26,9) -0.001374 -0.002666</text>
<g shape-rendering="crispEdges" stroke="#000"><path d="M1648 555.5H1650"/><path d="M1648 562.5H1649"/><path d="M1648 672.5H1650"/><path d="M1648 778.5H1649"/><path d="M1648 783.5H1649"/></g>
<text x="1651" y="571" font-size="10" fill="#000" text-anchor="start" textLength="37.5" lengthAdjust="spacingAndGlyphs"  stroke="#000" stroke-width="0.25">0.005014</text>
<text x="1651" y="676" font-size="10" fill="#000" text-anchor="start" textLength="17" lengthAdjust="spacingAndGlyphs"  stroke="#000" stroke-width="0.25">0.00</text>
<text x="1651" y="776" font-size="10" fill="#000" text-anchor="start" textLength="40.5" lengthAdjust="spacingAndGlyphs"  stroke="#000" stroke-width="0.25">-0.004812</text>
<g clip-path="url(#c3)">
<g stroke="#c0c0c0" stroke-width="1" stroke-dasharray="3 3" shape-rendering="crispEdges" fill="none">
<path d="M1 811.5H1647"/>
<path d="M1 853.5H1647"/>
<path d="M1 902.5H1647"/>
</g>
<polyline points="0,866 4,865.5 12,864 20,860 28,852 36,856.3 44,846 52,844.5 60,849 68,845.4 76,832 84,826.8 92,824 100,828 108,829.7 116,824.7 124,815 132,824 140,822.3 148,829.7 156,828.2 164,828.2 172,827 180,835 188,835.6 196,833.6 204,830 212,832 220,835.6 228,832 236,825.3 244,826.8 252,831.2 260,831.2 268,825.6 276,840 284,840 292,837.4 300,837.4 308,841.5 316,837 324,824 332,823.2 340,821.2 348,827 356,834 364,830.6 372,827 380,825.3 388,831.2 396,831.2 404,829 412,844.5 420,826.8 428,831.5 436,836 444,844.5 452,843.3 460,841.5 468,861.6 476,851.3 484,851.3 492,856.3 500,850.4 508,848.3 516,835 524,840.9 532,842.4 540,840.9 548,840.9 556,838.9 564,833 572,835.9 580,838 588,843.9 596,857.2 604,846 612,848.9 620,849.8 628,847.7 636,843.3 644,846.8 652,843 660,837.1 668,832.1 676,834.1 684,837.4 692,835.9 700,838 708,847.4 716,844.5 724,841.5 732,837.4 740,835 748,842.4 756,835.9 764,829.7 772,828.2 780,825.3 788,833.6 796,832.1 804,820.3 812,816.4 820,819.4 828,818.2 836,814.4 844,816.4 852,815.3 860,822.6 868,827.1 876,823.2 884,824.7 892,828.2 900,846 908,848.9 916,850.4 924,847.7 932,846.2 940,856.3 948,861 956,863.1 964,861.6 972,868.1 980,860.7 988,872.8 996,879.3 1004,871.3 1012,870.4 1020,871.3 1028,873.4 1036,854.8 1044,856.3 1052,857.2 1060,863.1 1068,855.1 1076,855.1 1084,862.2 1092,845.4 1100,859.2 1108,863.1 1116,863.1 1124,868.1 1132,872.8 1140,872.8 1148,872.8 1156,872.8 1164,872.8 1172,876.9 1180,888.2 1188,892 1196,883.1 1204,881.4 1212,883.1 1220,879.3 1228,887.3 1236,871.9 1244,860.1 1252,862.2 1260,862.2 1268,864 1276,860.1 1284,861 1292,871.9 1300,871.9 1308,878.7 1316,882.8 1324,887.3 1332,886.1 1340,888.2 1348,882.3 1356,877.2 1364,879.3 1372,876.4 1380,867.5 1388,874 1396,868.1 1404,864.5 1412,856.3 1420,866 1428,860 1436,849.5 1444,851.9 1452,854.2" fill="none" stroke="#1e90ff" stroke-width="1" shape-rendering="crispEdges"/>
<g shape-rendering="crispEdges">
<path d="M1360 881.2L1438.5 850.5" stroke="#f00" stroke-width="3.3" fill="none"/>
<path d="M1447.6 847.8L1438.5 856.1L1434.7 846.3L1447 846.2Z" fill="#f00"/>
</g>
</g>
<text x="-7.6" y="793.5" font-size="10" fill="#000" text-anchor="start" textLength="67.6" lengthAdjust="spacingAndGlyphs"  stroke="#000" stroke-width="0.25">RSI(14) 49.6084</text>
<text x="1651.5" y="792" font-size="10" fill="#000" text-anchor="start" textLength="14.2" lengthAdjust="spacingAndGlyphs"  stroke="#000" stroke-width="0.25">100</text>
<text x="1651.5" y="815" font-size="10" fill="#000" text-anchor="start" textLength="9.5" lengthAdjust="spacingAndGlyphs"  stroke="#000" stroke-width="0.25">80</text>
<text x="1651.5" y="857.5" font-size="10" fill="#000" text-anchor="start" textLength="9.5" lengthAdjust="spacingAndGlyphs"  stroke="#000" stroke-width="0.25">50</text>
<text x="1651.5" y="906" font-size="10" fill="#000" text-anchor="start" textLength="9.5" lengthAdjust="spacingAndGlyphs"  stroke="#000" stroke-width="0.25">15</text>
<text x="1651.5" y="921" font-size="10" fill="#000" text-anchor="start" textLength="4.8" lengthAdjust="spacingAndGlyphs"  stroke="#000" stroke-width="0.25">0</text>
<g shape-rendering="crispEdges" stroke="#000">
<path d="M52.5 925V928"/>
<path d="M116.5 925V928"/>
<path d="M180.5 925V928"/>
<path d="M244.5 925V928"/>
<path d="M308.5 925V928"/>
<path d="M372.5 925V928"/>
<path d="M436.5 925V928"/>
<path d="M500.5 925V928"/>
<path d="M564.5 925V928"/>
<path d="M628.5 925V928"/>
<path d="M692.5 925V928"/>
<path d="M756.5 925V928"/>
<path d="M820.5 925V928"/>
<path d="M884.5 925V928"/>
<path d="M948.5 925V928"/>
<path d="M1012.5 925V928"/>
<path d="M1076.5 925V928"/>
<path d="M1140.5 925V928"/>
<path d="M1204.5 925V928"/>
<path d="M1268.5 925V928"/>
<path d="M1332.5 925V928"/>
<path d="M1396.5 925V928"/>
</g>
<text x="-11.5" y="938" font-size="10" fill="#000" text-anchor="start" textLength="10.5" lengthAdjust="spacingAndGlyphs"  stroke="#000" stroke-width="0.25">20</text>
<text x="1.4" y="938" font-size="10" fill="#000" text-anchor="start" textLength="36" lengthAdjust="spacingAndGlyphs"  stroke="#000" stroke-width="0.25">Dec 2021</text>
<text x="51.4" y="938" font-size="10" fill="#000" text-anchor="start" textLength="53" lengthAdjust="spacingAndGlyphs"  stroke="#000" stroke-width="0.25">21 Dec 20:00</text>
<text x="115.4" y="938" font-size="10" fill="#000" text-anchor="start" textLength="53" lengthAdjust="spacingAndGlyphs"  stroke="#000" stroke-width="0.25">23 Dec 04:00</text>
<text x="179.4" y="938" font-size="10" fill="#000" text-anchor="start" textLength="53" lengthAdjust="spacingAndGlyphs"  stroke="#000" stroke-width="0.25">24 Dec 12:00</text>
<text x="243.4" y="938" font-size="10" fill="#000" text-anchor="start" textLength="53" lengthAdjust="spacingAndGlyphs"  stroke="#000" stroke-width="0.25">27 Dec 20:00</text>
<text x="307.4" y="938" font-size="10" fill="#000" text-anchor="start" textLength="53" lengthAdjust="spacingAndGlyphs"  stroke="#000" stroke-width="0.25">29 Dec 04:00</text>
<text x="371.4" y="938" font-size="10" fill="#000" text-anchor="start" textLength="53" lengthAdjust="spacingAndGlyphs"  stroke="#000" stroke-width="0.25">30 Dec 12:00</text>
<text x="435.4" y="938" font-size="10" fill="#000" text-anchor="start" textLength="47" lengthAdjust="spacingAndGlyphs"  stroke="#000" stroke-width="0.25">2 Jan 23:00</text>
<text x="499.4" y="938" font-size="10" fill="#000" text-anchor="start" textLength="47" lengthAdjust="spacingAndGlyphs"  stroke="#000" stroke-width="0.25">4 Jan 04:00</text>
<text x="563.4" y="938" font-size="10" fill="#000" text-anchor="start" textLength="47" lengthAdjust="spacingAndGlyphs"  stroke="#000" stroke-width="0.25">5 Jan 12:00</text>
<text x="627.4" y="938" font-size="10" fill="#000" text-anchor="start" textLength="47" lengthAdjust="spacingAndGlyphs"  stroke="#000" stroke-width="0.25">6 Jan 20:00</text>
<text x="691.4" y="938" font-size="10" fill="#000" text-anchor="start" textLength="53" lengthAdjust="spacingAndGlyphs"  stroke="#000" stroke-width="0.25">10 Jan 04:00</text>
<text x="755.4" y="938" font-size="10" fill="#000" text-anchor="start" textLength="53" lengthAdjust="spacingAndGlyphs"  stroke="#000" stroke-width="0.25">11 Jan 12:00</text>
<text x="819.4" y="938" font-size="10" fill="#000" text-anchor="start" textLength="53" lengthAdjust="spacingAndGlyphs"  stroke="#000" stroke-width="0.25">12 Jan 20:00</text>
<text x="883.4" y="938" font-size="10" fill="#000" text-anchor="start" textLength="53" lengthAdjust="spacingAndGlyphs"  stroke="#000" stroke-width="0.25">14 Jan 04:00</text>
<text x="947.4" y="938" font-size="10" fill="#000" text-anchor="start" textLength="53" lengthAdjust="spacingAndGlyphs"  stroke="#000" stroke-width="0.25">17 Jan 12:00</text>
<text x="1011.4" y="938" font-size="10" fill="#000" text-anchor="start" textLength="53" lengthAdjust="spacingAndGlyphs"  stroke="#000" stroke-width="0.25">18 Jan 20:00</text>
<text x="1075.4" y="938" font-size="10" fill="#000" text-anchor="start" textLength="53" lengthAdjust="spacingAndGlyphs"  stroke="#000" stroke-width="0.25">20 Jan 04:00</text>
<text x="1139.4" y="938" font-size="10" fill="#000" text-anchor="start" textLength="53" lengthAdjust="spacingAndGlyphs"  stroke="#000" stroke-width="0.25">21 Jan 12:00</text>
<text x="1203.4" y="938" font-size="10" fill="#000" text-anchor="start" textLength="53" lengthAdjust="spacingAndGlyphs"  stroke="#000" stroke-width="0.25">24 Jan 20:00</text>
<text x="1267.4" y="938" font-size="10" fill="#000" text-anchor="start" textLength="53" lengthAdjust="spacingAndGlyphs"  stroke="#000" stroke-width="0.25">26 Jan 04:00</text>
<text x="1331.4" y="938" font-size="10" fill="#000" text-anchor="start" textLength="53" lengthAdjust="spacingAndGlyphs"  stroke="#000" stroke-width="0.25">27 Jan 12:00</text>
<text x="1395.4" y="938" font-size="10" fill="#000" text-anchor="start" textLength="53" lengthAdjust="spacingAndGlyphs"  stroke="#000" stroke-width="0.25">30 Jan 23:00</text>
</svg>
<svg id="toolbar" width="1694" height="23" viewBox="0 0 1694 23" font-family="Liberation Sans, Arial, sans-serif" style="position:absolute;left:0;top:0">
<rect x="0" y="0" width="1694" height="19" fill="#f0f0f0"/>
<rect x="0" y="19" width="1694" height="1" fill="#a0a0a0"/><rect x="0" y="20" width="1694" height="1" fill="#696969"/><rect x="0" y="21" width="1694" height="2" fill="#fff"/>
<rect x="337" y="0" width="22" height="17" fill="#f8f8f8"/>
<rect x="488" y="0" width="24" height="17" fill="#f8f8f8"/>
<rect x="516" y="0" width="24" height="17" fill="#f8f8f8"/>
<rect x="676" y="0" width="24" height="17" fill="#f8f8f8"/>
<rect x="1122" y="0" width="24" height="17" fill="#f8f8f8"/>
<g shape-rendering="crispEdges">
<rect x="8" y="0" width="1" height="17" fill="#a0a0a0"/>
<rect x="335" y="0" width="1" height="17" fill="#a0a0a0"/>
<rect x="392" y="0" width="1" height="17" fill="#a0a0a0"/>
<rect x="482" y="0" width="1" height="17" fill="#a0a0a0"/>
<rect x="487" y="0" width="1" height="17" fill="#a0a0a0"/>
<rect x="515" y="0" width="1" height="17" fill="#a0a0a0"/>
<rect x="544" y="0" width="1" height="17" fill="#a0a0a0"/>
<rect x="675" y="0" width="1" height="17" fill="#a0a0a0"/>
<rect x="732" y="0" width="1" height="17" fill="#a0a0a0"/>
<rect x="1121" y="0" width="1" height="17" fill="#a0a0a0"/>
<rect x="297" y="0" width="1" height="19" fill="#a0a0a0"/><rect x="298" y="0" width="1" height="19" fill="#fff"/>
<rect x="665" y="0" width="1" height="19" fill="#a0a0a0"/><rect x="666" y="0" width="1" height="19" fill="#fff"/>
<rect x="971" y="0" width="1" height="19" fill="#a0a0a0"/><rect x="972" y="0" width="1" height="19" fill="#fff"/>
<rect x="1232" y="0" width="1" height="19" fill="#a0a0a0"/><rect x="1233" y="0" width="1" height="19" fill="#fff"/>
<rect x="301" y="1" width="3" height="1" fill="#b4b4b4"/>
<rect x="301" y="3" width="3" height="1" fill="#b4b4b4"/>
<rect x="301" y="5" width="3" height="1" fill="#b4b4b4"/>
<rect x="301" y="7" width="3" height="1" fill="#b4b4b4"/>
<rect x="301" y="9" width="3" height="1" fill="#b4b4b4"/>
<rect x="301" y="11" width="3" height="1" fill="#b4b4b4"/>
<rect x="301" y="13" width="3" height="1" fill="#b4b4b4"/>
<rect x="301" y="15" width="3" height="1" fill="#b4b4b4"/>
<rect x="669" y="1" width="3" height="1" fill="#b4b4b4"/>
<rect x="669" y="3" width="3" height="1" fill="#b4b4b4"/>
<rect x="669" y="5" width="3" height="1" fill="#b4b4b4"/>
<rect x="669" y="7" width="3" height="1" fill="#b4b4b4"/>
<rect x="669" y="9" width="3" height="1" fill="#b4b4b4"/>
<rect x="669" y="11" width="3" height="1" fill="#b4b4b4"/>
<rect x="669" y="13" width="3" height="1" fill="#b4b4b4"/>
<rect x="669" y="15" width="3" height="1" fill="#b4b4b4"/>
<rect x="975" y="1" width="3" height="1" fill="#b4b4b4"/>
<rect x="975" y="3" width="3" height="1" fill="#b4b4b4"/>
<rect x="975" y="5" width="3" height="1" fill="#b4b4b4"/>
<rect x="975" y="7" width="3" height="1" fill="#b4b4b4"/>
<rect x="975" y="9" width="3" height="1" fill="#b4b4b4"/>
<rect x="975" y="11" width="3" height="1" fill="#b4b4b4"/>
<rect x="975" y="13" width="3" height="1" fill="#b4b4b4"/>
<rect x="975" y="15" width="3" height="1" fill="#b4b4b4"/>
</g>
<rect x="0" y="13" width="1" height="2" fill="#e8a020"/>
<path d="M18.5 -1H26.5L29.5 2V11.5H18.5Z" fill="#fff" stroke="#8a8a8a" stroke-width="1"/><path d="M20.5 2H25M20.5 4.5H27M20.5 7H24" stroke="#9a9a9a" stroke-width="1"/>
<path d="M26.3 5.2H30.3V8.8H33.8V12.6H30.3V16.3H26.3V12.6H22.7V8.8H26.3Z" fill="#2fd02f" stroke="#0e8a0e" stroke-width="1" stroke-linejoin="round"/>
<text x="37.5" y="10" font-size="13" fill="#000" textLength="64.5" lengthAdjust="spacingAndGlyphs">New Order</text>
<defs><linearGradient id="gold" x1="0" y1="0" x2="1" y2="1"><stop offset="0" stop-color="#fbe070"/><stop offset="0.55" stop-color="#eeb020"/><stop offset="1" stop-color="#c07c08"/></linearGradient></defs>
<path d="M118.7 -0.8L129.8 8L129.4 9.8L122 14.6L113.8 9.2Z" fill="url(#gold)" stroke="#a8740c" stroke-width="0.9" stroke-linejoin="round"/><path d="M114.2 9.6L122 14.4L129.4 9.6" fill="none" stroke="#7c4c08" stroke-width="1.3"/><path d="M115.8 9.2L122 12.9L128.2 8.6" fill="none" stroke="#fbeab0" stroke-width="0.8"/>
<rect x="144.8" y="-1" width="9.8" height="8.2" fill="#2f98f4" stroke="#1c74d8" stroke-width="0.8"/><path d="M148 1H153M148 3.4H153" stroke="#d8ecff" stroke-width="1.1"/><path d="M146.7 -1V7" stroke="#8cc8ff" stroke-width="1"/>
<defs><linearGradient id="cl" x1="0" y1="0" x2="0" y2="1"><stop offset="0" stop-color="#ffffff"/><stop offset="1" stop-color="#c8d4ea"/></linearGradient></defs>
<path d="M145.3 14.6C141.3 14.6 141.2 10.1 144.6 9.9C145 7 148.8 6.5 150.1 8.6C152.1 7 155.3 8.4 154.9 10.5C158.7 10.5 158.7 14.6 155.2 14.6Z" fill="url(#cl)" stroke="#5f7fc0" stroke-width="1"/>
<path d="M177.8 6.5L177.8 14.8A8.3 8.3 0 0 0 186.1 6.5A8.3 8.3 0 0 0 183.5 0.5Z" fill="#4aa84a" opacity="0.45"/>
<g fill="none"><path d="M179.5 14.4A8.1 8.1 0 1 1 183 0.3" stroke="#9ab8e8" stroke-width="1"/><path d="M178.5 12.6A6.2 6.2 0 1 1 181.5 1.5" stroke="#5c8cdc" stroke-width="1.2"/><circle cx="177.8" cy="6.5" r="3.5" stroke="#3a6cd0" stroke-width="1.3"/></g><circle cx="177.8" cy="6.3" r="1.5" fill="#2050c0"/><path d="M178.3 7V14.8" stroke="#28a028" stroke-width="1.5"/>
<path d="M202 -1C202 2 200 3 197.8 4.3C202 6.8 208.5 6.8 212.6 4.3C210.5 3 208.5 2 208.5 -1Z" fill="#6cb8ea" stroke="#4a94d0" stroke-width="0.7"/>
<path d="M198.4 5.6C203 7.6 208 7.6 212 5.6L206.6 14.6H204.4Z" fill="#f8d038" stroke="#d8a818" stroke-width="0.7" stroke-linejoin="round"/>
<circle cx="209.4" cy="10.8" r="3.9" fill="#e82818" stroke="#b81408" stroke-width="0.6"/><rect x="208" y="9.4" width="2.8" height="2.8" fill="#fff"/>
<text x="218.5" y="10" font-size="13" fill="#000" textLength="71" lengthAdjust="spacingAndGlyphs">AutoTrading</text>
<g stroke="#505050" stroke-width="1.2" fill="none"><path d="M315.5 1.5V14.5M313 12.5H326.5"/><path d="M314 3L315.5 1L317 3M324.5 11L326.5 12.5L324.5 14"/></g>
<path d="M321.5 2.5V11M321.5 3H323.5M319.5 10H321.5" stroke="#18a018" stroke-width="1.4" fill="none"/>
<g stroke="#505050" stroke-width="1.2" fill="none"><path d="M343.5 1.5V14.5M341 12.5H354.5"/><path d="M342 3L343.5 1L345 3M352.5 11L354.5 12.5L352.5 14"/></g>
<path d="M349 -1V10" stroke="#188a18" stroke-width="1"/><rect x="347" y="1" width="4" height="7" fill="#28c028" stroke="#148a14" stroke-width="0.8"/>
<g stroke="#505050" stroke-width="1.2" fill="none"><path d="M371.5 1.5V14.5M369 12.5H382.5"/><path d="M370 3L371.5 1L373 3M380.5 11L382.5 12.5L380.5 14"/></g>
<path d="M370.5 10C372.5 7 374.5 3.5 376.5 4C378.5 4.5 380 7 382 8.5" stroke="#2a9a2a" stroke-width="1.2" fill="none"/>
<path d="M411 9L415.8 13.8" stroke="#d8a428" stroke-width="3" stroke-linecap="round"/><path d="M411 8.6L415.6 13.2" stroke="#f8e080" stroke-width="1"/>
<circle cx="407" cy="4.6" r="5.4" fill="#d8ecfc" stroke="#4a88d8" stroke-width="1.3"/>
<path d="M404 4.6H410" stroke="#2a68c8" stroke-width="1.6"/>
<path d="M407 1.6V7.6" stroke="#2a68c8" stroke-width="1.6"/>
<path d="M439 9L443.8 13.8" stroke="#d8a428" stroke-width="3" stroke-linecap="round"/><path d="M439 8.6L443.6 13.2" stroke="#f8e080" stroke-width="1"/>
<circle cx="435" cy="4.6" r="5.4" fill="#d8ecfc" stroke="#4a88d8" stroke-width="1.3"/>
<path d="M432 4.6H438" stroke="#2a68c8" stroke-width="1.6"/>
<rect x="457" y="-1.5" width="7.6" height="7.8" fill="#4fa61e"/><rect x="458.6" y="1.5" width="4.6" height="3.2" fill="#f4f8ff"/><path d="M459.6 3.0999999999999996H462.2" stroke="#4fa61e" stroke-width="0.9"/>
<rect x="465.5" y="-1.5" width="7.6" height="7.8" fill="#2b5cd6"/><rect x="467.1" y="1.5" width="4.6" height="3.2" fill="#f4f8ff"/><path d="M468.1 3.0999999999999996H470.7" stroke="#2b5cd6" stroke-width="0.9"/>
<rect x="457" y="7" width="7.6" height="7.8" fill="#2b5cd6"/><rect x="458.6" y="10" width="4.6" height="3.2" fill="#f4f8ff"/><path d="M459.6 11.6H462.2" stroke="#2b5cd6" stroke-width="0.9"/>
<rect x="465.5" y="7" width="7.6" height="7.8" fill="#4fa61e"/><rect x="467.1" y="10" width="4.6" height="3.2" fill="#f4f8ff"/><path d="M468.1 11.6H470.7" stroke="#4fa61e" stroke-width="0.9"/>
<g stroke="#505050" stroke-width="1.2" fill="none"><path d="M495.5 1.5V14.5M493 12.5H506.5"/><path d="M494 3L495.5 1L497 3M504.5 11L506.5 12.5L504.5 14"/></g>
<path d="M500.5 3.5V10L504.5 6.8Z" fill="#d8f8d8" stroke="#20a020" stroke-width="1.1" stroke-linejoin="round"/>
<g stroke="#505050" stroke-width="1.2" fill="none"><path d="M523.5 1.5V14.5M521 12.5H534.5"/><path d="M522 3L523.5 1L525 3M532.5 11L534.5 12.5L532.5 14"/></g>
<path d="M529.5 1V10.5" stroke="#2a78c8" stroke-width="1.3"/><path d="M531 6.5H535M533 4.5L531 6.5L533 8.5" stroke="#e03010" stroke-width="1.2" fill="none"/>
<path d="M554.5 1.5L557 -1H562.5L565 1.5V11.5H554.5Z" fill="#fff" stroke="#8a8a8a"/><path d="M559.8 2.5C558 2 557.5 3 557.5 4.5V9.5M556.3 5.5H559.2" stroke="#707070" stroke-width="1" fill="none"/>
<path d="M562 4.7H566.2V8.2H569.6V11.8H566.2V16H562V11.8H558.3V8.2H562Z" fill="#2fd02f" stroke="#0e8a0e" stroke-width="1" stroke-linejoin="round"/>
<path d="M576 6L581.6 6L578.8 9.2Z" fill="#000"/>
<circle cx="600" cy="6.8" r="7" fill="#fff" stroke="#2a7de1" stroke-width="2.2"/><circle cx="600" cy="6.8" r="8.1" fill="none" stroke="#1a5cb8" stroke-width="0.6"/><path d="M600 2.5V7H603.5" stroke="#404040" stroke-width="1.1" fill="none"/><path d="M596 7H597M600 10.5V11.3" stroke="#909090" stroke-width="0.8"/>
<path d="M615 6L620.6 6L617.8 9.2Z" fill="#000"/>
<rect x="631.5" y="-1.5" width="15" height="14.5" fill="#fff" stroke="#5a8ad8" stroke-width="1"/><rect x="631.5" y="-1.5" width="15" height="3" fill="#4a86e0"/><path d="M632 7.5H646" stroke="#5a8ad8" stroke-width="1"/>
<path d="M633.5 6L636 4.8L638.5 5.6L641 3.8L643 4.6L645 3.5" stroke="#c03020" stroke-width="1.1" fill="none"/><path d="M633.5 11.5L636 10.2L638 11L640.5 9L643 11L645 10" stroke="#20a030" stroke-width="1.1" fill="none"/>
<path d="M654 6L659.6 6L656.8 9.2Z" fill="#000"/>
<path d="M683.3 -1V10.3L686 8L688.2 13L690 12.2L687.8 7.4H691.3Z" fill="#505050"/>
<path d="M708 7.5H714M717 7.5H723M715.5 0V6M715.5 9V15M715 7.5H716" stroke="#505050" stroke-width="1" shape-rendering="crispEdges"/>
<path d="M749.5 1V14M772 7.5H784" stroke="#505050" stroke-width="1" shape-rendering="crispEdges"/>
<path d="M800 13.8L812 1.9" stroke="#505050" stroke-width="1.2"/>
<g stroke="#505050" stroke-width="1" fill="none"><path d="M826.5 9L838 0.5M828 12L839.5 3.5M826 6.5L836 -1"/><path d="M829.5 6V12M832.5 4V10M835.5 1.5V7.5"/></g><text x="836.5" y="16" font-size="7.5" font-weight="bold" fill="#404040">E</text>
<g stroke="#505050" stroke-width="1" stroke-dasharray="1 1" shape-rendering="crispEdges"><path d="M855 0.5H868M855 3.5H868M855 5.5H868M855 8.5H868M855 11.5H864"/></g><text x="864.5" y="16" font-size="7.5" font-weight="bold" fill="#404040">F</text>
<text x="885" y="12" font-size="12.5" fill="#555" textLength="9.5" lengthAdjust="spacingAndGlyphs">A</text>
<rect x="912.5" y="0.5" width="11" height="13" fill="none" stroke="#505050" stroke-width="1" stroke-dasharray="1 1" shape-rendering="crispEdges"/><text x="914" y="11.5" font-size="11.5" font-weight="bold" fill="#505050" textLength="8" lengthAdjust="spacingAndGlyphs">T</text>
<path d="M942.5 0.5L945.5 3.5L942.5 6.5L939.5 3.5Z" fill="#505050"/><path d="M950 7.5L953 10.5L950 13.5L947 10.5Z" fill="#505050"/><path d="M941.5 7L944 9.5L948.5 4.5" stroke="#505050" stroke-width="1.3" fill="none"/>
<path d="M960 6L965.6 6L962.8 9.2Z" fill="#000"/>
<text x="986.7" y="11" font-size="10" fill="#404040" textLength="12.8" lengthAdjust="spacingAndGlyphs">M1</text>
<text x="1014.3" y="11" font-size="10" fill="#404040" textLength="13.1" lengthAdjust="spacingAndGlyphs">M5</text>
<text x="1040.6" y="11" font-size="10" fill="#404040" textLength="17.5" lengthAdjust="spacingAndGlyphs">M15</text>
<text x="1068.5" y="11" font-size="10" fill="#404040" textLength="17.9" lengthAdjust="spacingAndGlyphs">M30</text>
<text x="1099.6" y="11" font-size="10" fill="#404040" textLength="11.9" lengthAdjust="spacingAndGlyphs">H1</text>
<text x="1127" y="11" font-size="10" fill="#404040" textLength="12" lengthAdjust="spacingAndGlyphs">H4</text>
<text x="1155.4" y="11" font-size="10" fill="#404040" textLength="11.9" lengthAdjust="spacingAndGlyphs">D1</text>
<text x="1183" y="11" font-size="10" fill="#404040" textLength="14" lengthAdjust="spacingAndGlyphs">W1</text>
<text x="1209.9" y="11" font-size="10" fill="#404040" textLength="14.3" lengthAdjust="spacingAndGlyphs">MN</text>
<path d="M1646.8 7.2L1642 11.8" stroke="#2458c8" stroke-width="2.6" stroke-linecap="round"/><circle cx="1649.7" cy="4.2" r="3.9" fill="#f4f8ff" stroke="#2e62d8" stroke-width="1.5"/>
<path d="M1666.3 9.2C1666.3 6 1668.5 4.2 1672 4.2C1675.5 4.2 1677.5 6.2 1677.5 9C1677.5 11.8 1675.3 13.6 1672 13.6C1671.2 13.6 1670.6 13.5 1670.2 13.4L1668.8 15.6L1668.9 12.8C1667.3 12.2 1666.3 11 1666.3 9.2Z" fill="#e4e6ee" stroke="#b8b8b8" stroke-width="0.8"/>
<defs><linearGradient id="bg" x1="0" y1="0" x2="0" y2="1"><stop offset="0" stop-color="#e8502c"/><stop offset="1" stop-color="#d8281a"/></linearGradient></defs>
<circle cx="1680.7" cy="4.6" r="8.3" fill="url(#bg)"/><text x="1676.3" y="9" font-size="13" font-weight="bold" fill="#fff" font-family="Liberation Serif, serif">1</text>
<rect x="1693" y="20" width="1" height="1" fill="#fff"/>
</svg>
<div id="trade">
<div class="top sell"><span class="lbl">SELL</span></div>
<div class="spin"><div class="btn dn"><i></i></div><div class="val">1.00</div><div class="btn up"><i></i></div></div>
<div class="top buy"><span class="lbl">BUY</span></div>
<div class="price ps"><span class="sm">1.34</span><span class="big">38</span><span class="sup">5</span></div>
<div class="price pb"><span class="sm">1.34</span><span class="big">41</span><span class="sup">1</span></div>
</div>
</body></html>
